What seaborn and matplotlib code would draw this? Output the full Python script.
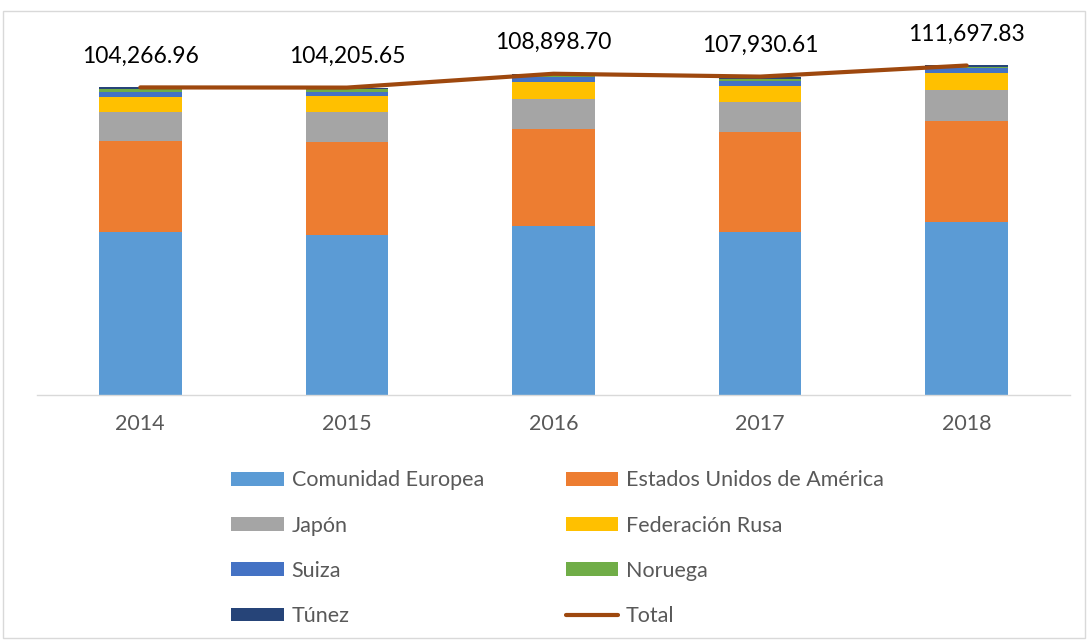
import numpy as np
import pandas as pd
import matplotlib
matplotlib.use("Agg")
import matplotlib.pyplot as plt
from matplotlib.patches import Patch, Rectangle
from matplotlib.lines import Line2D
import seaborn as sns

years = ["2014", "2015", "2016", "2017", "2018"]
comunidad_europea = [55200, 54200, 57300, 55100, 58600]
estados_unidos = [31000, 31700, 33000, 34200, 34200]
japon = [9600, 10100, 10200, 10000, 10500]
federacion_rusa = [5300, 5200, 5700, 5600, 6000]
suiza = [1700, 1600, 1600, 1500, 1400]
noruega = [800, 800, 600, 800, 600]
tunez = [666.96, 605.65, 498.70, 730.61, 397.83]
total = [104266.96, 104205.65, 108898.70, 107930.61, 111697.83]

series_names = ["Comunidad Europea", "Estados Unidos de América", "Japón",
                "Federación Rusa", "Suiza", "Noruega", "Túnez"]
series_vals = [comunidad_europea, estados_unidos, japon, federacion_rusa,
               suiza, noruega, tunez]
colors = ["#5B9BD5", "#ED7D31", "#A5A5A5", "#FFC000", "#4472C4", "#70AD47", "#264478"]
line_color = "#9E480E"

sns.set_theme(style="white")
plt.rcParams["font.family"] = ["Lato", "DejaVu Sans"]

fig = plt.figure(figsize=(10.88, 6.41), dpi=100)
ax = fig.add_axes([37/1088, (641-395)/641, (1070-37)/1088, (395-41)/641])

cum = np.cumsum(np.array(series_vals), axis=0)
# draw from top of stack down so lower layers overlay
for i in range(len(series_names) - 1, -1, -1):
    df = pd.DataFrame({"year": years, "value": cum[i]})
    sns.barplot(data=df, x="year", y="value", color=colors[i], width=0.4,
                saturation=1, ax=ax, errorbar=None, linewidth=0, zorder=2)

df_tot = pd.DataFrame({"pos": np.arange(len(years)), "total": total})
sns.lineplot(data=df_tot, x="pos", y="total", color=line_color, linewidth=3,
             ax=ax, zorder=3)

for i, t in enumerate(total):
    ax.annotate(f"{t:,.2f}", (i, t), xytext=(0, 15), textcoords="offset points",
                ha="center", va="bottom", fontsize=16.5, color="#000000")

ax.set_xlim(-0.5, 4.5)
ax.set_ylim(0, 120000)
ax.set_xlabel("")
ax.set_ylabel("")
ax.set_yticks([])
ax.set_xticks(range(len(years)))
ax.set_xticklabels(years, fontsize=15.5, color="#595959")
ax.tick_params(axis="x", length=0, pad=14)
for s in ["top", "right", "left"]:
    ax.spines[s].set_visible(False)
ax.spines["bottom"].set_color("#d9d9d9")
ax.spines["bottom"].set_linewidth(1)

handles = [Patch(facecolor=c, edgecolor="none") for c in colors]
labels = list(series_names)
handles.append(Line2D([0], [0], color=line_color, linewidth=3))
labels.append("Total")
# row-major order for two columns
order = [0, 2, 4, 6, 1, 3, 5, 7]
fig.legend([handles[k] for k in order], [labels[k] for k in order],
           loc="upper left", bbox_to_anchor=(212/1088, 1 - 451/641), ncol=2,
           frameon=False, fontsize=15.5, labelcolor="#595959",
           handlelength=2.45, handleheight=0.6, handletextpad=0.35,
           columnspacing=3.8, labelspacing=1.17)

fig.patches.append(Rectangle((3/1088, 3/641), 1082/1088, (641-14)/641,
                             transform=fig.transFigure, fill=False,
                             edgecolor="#d9d9d9", linewidth=1))

fig.savefig("out.png", dpi=100)
